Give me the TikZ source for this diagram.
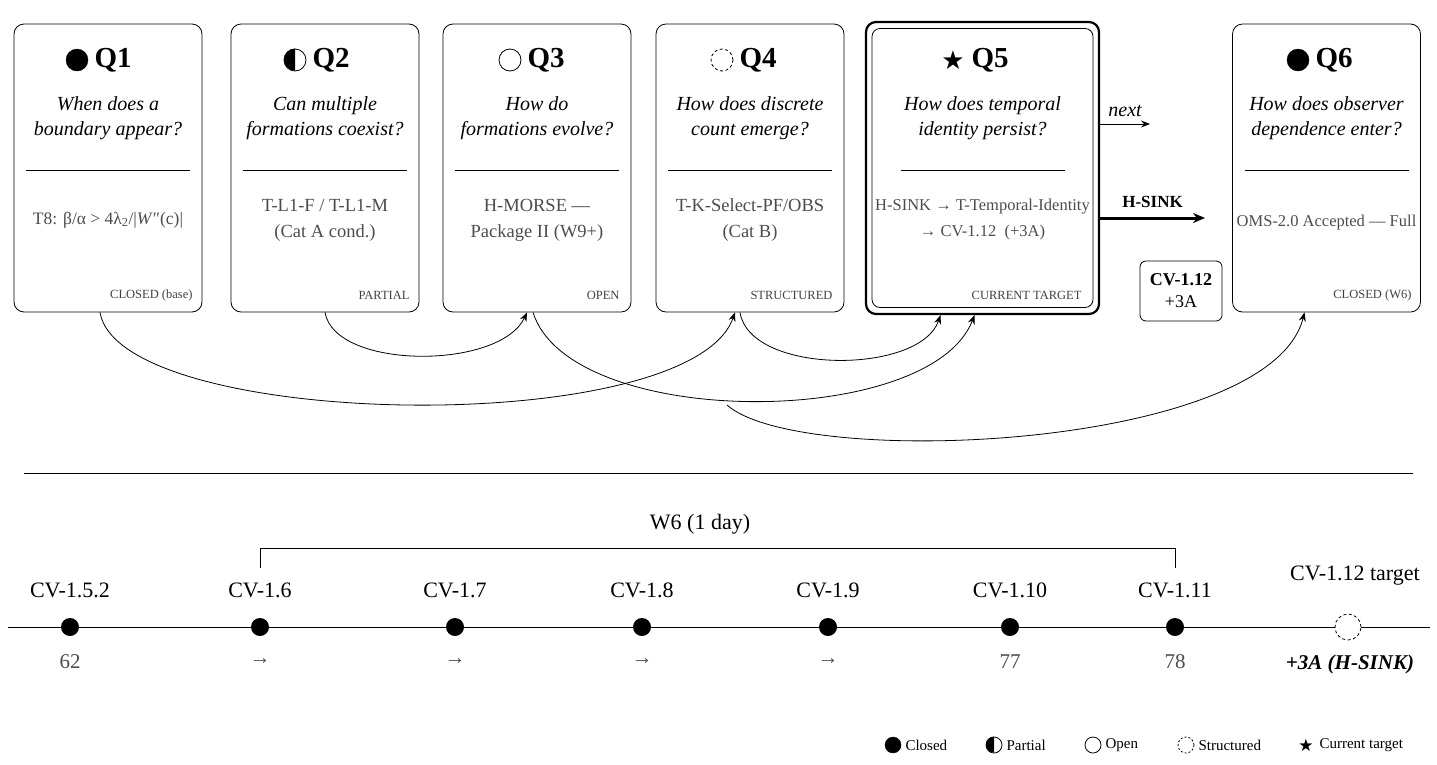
\documentclass[tikz,border=0pt]{standalone}
\usepackage{fontspec}
\setmainfont{Liberation Serif}
\newfontfamily\symfont{DejaVu Sans}
\usetikzlibrary{arrows.meta, positioning, calc}

\begin{document}
\begin{tikzpicture}[x=1pt, y=-1pt,
    card/.style={rectangle, draw=black, thick, rounded corners=10pt, minimum width=188pt, minimum height=288pt},
    title/.style={font=\fontsize{29}{30}\selectfont\bfseries, anchor=west},
    question/.style={font=\fontsize{20}{25}\selectfont\itshape, align=center},
    body/.style={font=\fontsize{18.5}{26}\selectfont, text=black!70, align=center},
    status/.style={font=\fontsize{12.5}{14}\selectfont, text=black!75, anchor=east},
    closed/.style={circle, fill=black, draw=black, minimum size=22pt, inner sep=0pt},
    open/.style={circle, draw=black, thick, minimum size=22pt, inner sep=0pt},
    structured/.style={circle, draw=black, thick, dashed, dash pattern=on 3pt off 2.5pt, minimum size=22pt, inner sep=0pt},
    link/.style={-{Stealth[length=9pt, width=7pt]}, thick},
    tick/.style={circle, fill=black, minimum size=18pt, inner sep=0pt},
    version/.style={font=\fontsize{22}{24}\selectfont},
    value/.style={font=\fontsize{21}{24}\selectfont, text=black!70},
    legend/.style={font=\fontsize{15}{17}\selectfont, anchor=west}
]
\useasboundingbox (0,0) rectangle (1437,764);

% Question cards
\node[card] (q1) at (108,168) {};
\node[card] (q2) at (325,168) {};
\node[card] (q3) at (537,168) {};
\node[card] (q4) at (750,168) {};
\node[card, minimum width=233pt, minimum height=292pt, line width=2.2pt] (q5) at (982.5,168) {};
\node[card, minimum width=221pt, minimum height=279pt, rounded corners=8pt] (q5in) at (982.5,168) {};
\node[card] (q6) at (1326.5,168) {};

% Card headers
\node[closed] (s1) at (77,60) {};
\node[title] (t1) at (91,60) {Q1};
\node[open] (s2) at (295,60) {};
\fill (s2.north) arc[start angle=90, end angle=270, radius=11pt] -- cycle;
\node[title] (t2) at (309,60) {Q2};
\node[open] (s3) at (510,60) {};
\node[title] (t3) at (524,60) {Q3};
\node[structured] (s4) at (722,60) {};
\node[title] (t4) at (736,60) {Q4};
\node[font=\symfont\fontsize{26}{28}\selectfont] (s5) at (953,60) {★};
\node[title] (t5) at (968,60) {Q5};
\node[closed] (s6) at (1298,60) {};
\node[title] (t6) at (1312,60) {Q6};

% Questions
\node[question] (qq1) at (108,118) {When does a\\boundary appear?};
\node[question] (qq2) at (325,118) {Can multiple\\formations coexist?};
\node[question] (qq3) at (537,118) {How do\\formations evolve?};
\node[question] (qq4) at (750,118) {How does discrete\\count emerge?};
\node[question] (qq5) at (982.5,118) {How does temporal\\identity persist?};
\node[question] (qq6) at (1326.5,118) {How does observer\\dependence enter?};

% Separators
\foreach \cx in {108,325,537,750,982.5,1326.5}
  \draw[thick] (\cx-82,170) -- (\cx+82,170);

% Results
\node[body, font=\fontsize{17.5}{26}\selectfont] (b1) at (108,220) {T8: β/α > 4λ\textsubscript{2}/|\textit{W}″(c)|};
\node[body] (b2) at (325,220) {T-L1-F / T-L1-M\\(Cat A cond.)};
\node[body] (b3) at (537,220) {H-MORSE ---\\Package II (W9+)};
\node[body] (b4) at (750,220) {T-K-Select-PF/OBS\\(Cat B)};
\node[body, font=\fontsize{16.5}{26}\selectfont] (b5) at (982.5,220) {H-SINK → T-Temporal-Identity\\→ CV-1.12\ \ (+3A)};
\node[body, font=\fontsize{16.5}{20}\selectfont] (b6) at (1326.5,223) {OMS-2.0 Accepted --- Full};

% Status labels
\node[status] (st1) at (196,295) {CLOSED (base)};
\node[status] (st2) at (413,295) {PARTIAL};
\node[status] (st3) at (623,295) {OPEN};
\node[status] (st4) at (836,295) {STRUCTURED};
\node[status] (st5) at (1085,295) {CURRENT TARGET};
\node[status] (st6) at (1415,295) {CLOSED (W6)};

% Next and H-SINK
\coordinate (nextend) at (1150,124);
\coordinate (sinkend) at (1205,218);
\draw[-{Stealth[length=9pt, width=7pt]}, thick] (q5.east |- nextend) -- (nextend) node[midway, above=4pt, font=\fontsize{20}{22}\selectfont\itshape] {next};
\draw[-{Stealth[length=12pt, width=10pt]}, line width=3pt] (q5.east |- sinkend) -- (sinkend) node[midway, above=6pt, font=\fontsize{17}{20}\selectfont\bfseries] {H-SINK};
\node[rectangle, draw=black, thick, rounded corners=6pt, minimum width=82pt, minimum height=60pt, align=center, font=\fontsize{18}{22}\selectfont] (cv12box) at (1181,291) {\textbf{CV-1.12}\\+3A};

% Dependencies
\coordinate (fork) at (727,405);
\draw[link] ([xshift=-8pt]q1.south) .. controls (120,430) and (690,440) .. ([xshift=-15pt]q4.south);
\draw[link] (q2.south) .. controls (335,370) and (500,370) .. ([xshift=-10pt]q3.south);
\draw[link] ([xshift=-4pt]q3.south) .. controls (570,430) and (930,430) .. ([xshift=-8pt]q5.south);
\draw[link] ([xshift=-10pt]q4.south) .. controls (750,375) and (920,375) .. ([xshift=-42pt]q5.south);
\draw[link] (fork) .. controls (800,470) and (1270,450) .. ([xshift=-22pt]q6.south);

% Divider
\draw[thick] (24,473) -- (1413,473);

% Timeline
\coordinate (tlstart) at (8,627);
\coordinate (tlend) at (1430,627);
\draw[thick] (tlstart) -- (tlend);
\foreach \x/\ver/\val [count=\i] in {70/CV-1.5.2/62, 260/CV-1.6/→, 455/CV-1.7/→, 642/CV-1.8/→, 828/CV-1.9/→, 1010/CV-1.10/77, 1175/CV-1.11/78}{
  \node[tick] (v\i) at (\x,627) {};
  \node[version] (vl\i) at (\x,590) {\ver};
  \node[value] (vv\i) at (\x,662) {\val};
}
\node[structured, minimum size=26pt, fill=white] (vtarget) at (1348,627) {};
\node[version] (vltarget) at (1355,576) {CV-1.12 target};
\node[version, font=\fontsize{21}{24}\selectfont\bfseries\itshape] (vvtarget) at (1350,664) {+3A (H-SINK)};

% W6 bracket
\coordinate (brk) at (0,548);
\coordinate (brkfoot) at (0,568);
\draw[thick] (v2 |- brkfoot) -- (v2 |- brk) -| (v7 |- brkfoot);
\node[version] (w6) at (700,524) {W6 (1 day)};

% Legend
\node[closed, minimum size=16pt] (lg1) at (893,745) {};
\node[legend] at (902,745) {Closed};
\node[open, minimum size=16pt] (lg2) at (994,745) {};
\fill (lg2.north) arc[start angle=90, end angle=270, radius=8pt] -- cycle;
\node[legend] at (1003,745) {Partial};
\node[open, minimum size=16pt] (lg3) at (1093,745) {};
\node[legend] at (1102,745) {Open};
\node[structured, minimum size=16pt, dash pattern=on 2pt off 2pt] (lg4) at (1186,745) {};
\node[legend] at (1195,745) {Structured};
\node[font=\symfont\fontsize{17}{18}\selectfont] (lg5) at (1306,745) {★};
\node[legend] at (1316,745) {Current target};
\end{tikzpicture}
\end{document}
